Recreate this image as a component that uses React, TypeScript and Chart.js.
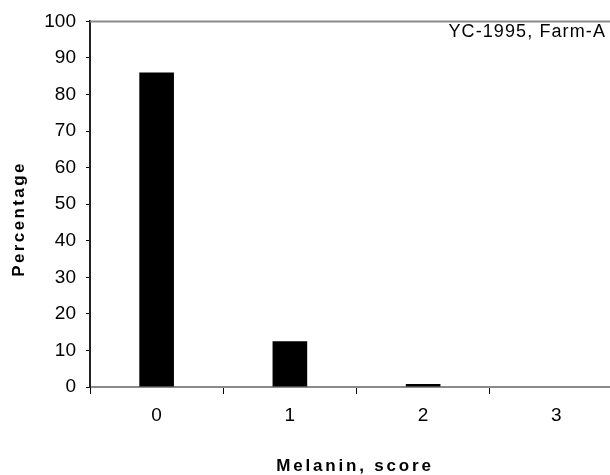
import React, { useEffect, useRef } from 'react';
import { Chart, registerables } from 'chart.js';

Chart.register(...registerables);

const categories = ['0', '1', '2', '3'];
const percentages = [86, 12.5, 0.8, 0];
const yMin = 0;
const yMax = 100;
const yStep = 10;
const annotationText = 'YC-1995, Farm-A';
const xTitleText = 'Melanin, score';
const yTitleText = 'Percentage';

const FONT = '"Liberation Sans", Arial, sans-serif';

const overlayPlugin = {
  id: 'overlay',
  afterDraw(chart: any) {
    const { ctx, chartArea } = chart;
    ctx.save();
    // top / right frame line
    ctx.strokeStyle = '#8a8a8a';
    ctx.lineWidth = 2;
    ctx.beginPath();
    ctx.moveTo(chartArea.left, chartArea.top);
    ctx.lineTo(chartArea.right, chartArea.top);
    ctx.lineTo(chartArea.right, chartArea.bottom);
    ctx.stroke();

    // annotation
    ctx.fillStyle = '#000';
    ctx.font = `18px ${FONT}`;
    (ctx as any).letterSpacing = '1.1px';
    ctx.textAlign = 'right';
    ctx.textBaseline = 'alphabetic';
    ctx.fillText(annotationText, 606, 37);

    // x title
    ctx.font = `bold 17px ${FONT}`;
    (ctx as any).letterSpacing = '2.8px';
    ctx.textAlign = 'center';
    ctx.fillText(xTitleText, 355, 471);

    // y title
    (ctx as any).letterSpacing = '2.4px';
    ctx.translate(19, 219);
    ctx.rotate(-Math.PI / 2);
    ctx.textBaseline = 'middle';
    ctx.fillText(yTitleText, 0, 0);
    ctx.restore();
  },
};

export default function App() {
  const ref = useRef<HTMLCanvasElement | null>(null);

  useEffect(() => {
    if (!ref.current) return;
    const chart = new Chart(ref.current, {
      type: 'bar',
      data: {
        labels: categories,
        datasets: [
          {
            data: percentages,
            backgroundColor: '#000',
            borderWidth: 0,
            barPercentage: 0.26,
            categoryPercentage: 1,
          },
        ],
      },
      options: {
        animation: false,
        responsive: false,
        devicePixelRatio: 1,
        layout: { padding: { top: 18, right: 7, left: 0, bottom: 0 } },
        plugins: { legend: { display: false }, tooltip: { enabled: false } },
        scales: {
          x: {
            type: 'category',
            offset: true,
            grid: {
              offset: true,
              drawOnChartArea: false,
              tickLength: 7,
              color: '#000',
              lineWidth: 1,
            },
            border: { color: '#8a8a8a', width: 2 },
            ticks: { color: '#000', font: { family: FONT, size: 19 }, padding: 10 },
            afterFit(scale: any) {
              scale.height = 88;
            },
          },
          y: {
            min: yMin,
            max: yMax,
            ticks: { stepSize: yStep, color: '#000', font: { family: FONT, size: 19 }, padding: 10 },
            grid: { drawOnChartArea: false, tickLength: 4, color: '#000' },
            border: { color: '#222', width: 2 },
            afterFit(scale: any) {
              scale.width = 90;
            },
          },
        },
      },
      plugins: [overlayPlugin],
    });
    return () => chart.destroy();
  }, []);

  return (
    <div style={{ position: 'fixed', left: 0, top: 0, width: 610, height: 475, overflow: 'hidden', background: '#fff' }}>
      <canvas ref={ref} width={630} height={475} style={{ display: 'block', width: 630, height: 475 }} />
    </div>
  );
}
